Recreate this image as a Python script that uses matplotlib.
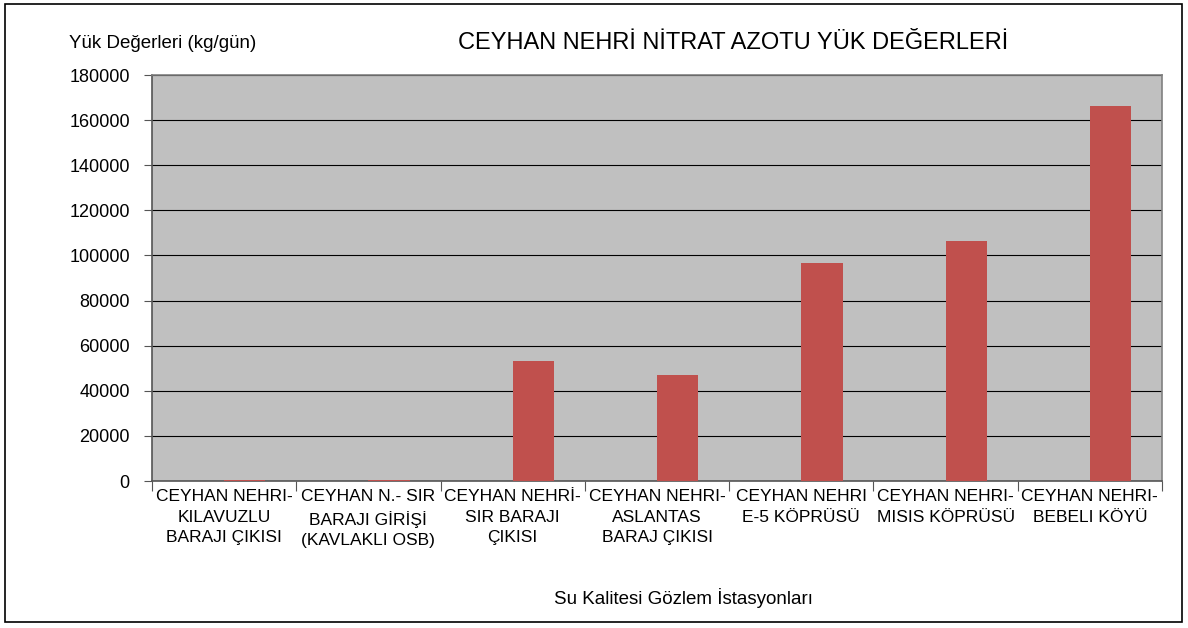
import matplotlib
matplotlib.use("Agg")
import matplotlib.pyplot as plt
import numpy as np

plt.rcParams["font.family"] = ["Liberation Sans", "DejaVu Sans"]

stations = [
    "CEYHAN NEHRI-\nKILAVUZLU\nBARAJI ÇIKISI",
    "CEYHAN N.- SIR\nBARAJI GİRİŞİ\n(KAVLAKLI OSB)",
    "CEYHAN NEHRİ-\nSIR BARAJI\nÇIKISI",
    "CEYHAN NEHRI-\nASLANTAS\nBARAJ ÇIKISI",
    "CEYHAN NEHRI\nE-5 KÖPRÜSÜ",
    "CEYHAN NEHRI-\nMISIS KÖPRÜSÜ",
    "CEYHAN NEHRI-\nBEBELI KÖYÜ",
]
empty_series = [0, 0, 0, 0, 0, 0, 0]
nitrat_yuk = [300, 300, 53200, 47000, 96700, 106400, 166300]
yticks = [0, 20000, 40000, 60000, 80000, 100000, 120000, 140000, 160000, 180000]

fig = plt.figure(figsize=(11.88, 6.28), dpi=100)
ax = fig.add_axes([152 / 1188, 1 - 481 / 628, 1010 / 1188, 406 / 628])

x = np.arange(len(stations))
w = 1 / 3.5
ax.bar(x - w / 2, empty_series, width=w, color="#4F81BD")
ax.bar(x + w / 2, nitrat_yuk, width=w, color="#C0504D", zorder=3)

ax.set_facecolor("#C0C0C0")
ax.set_xlim(-0.5, len(stations) - 0.5)
ax.set_ylim(0, 180000)
ax.set_yticks(yticks)
ax.set_yticklabels([str(v) for v in yticks], fontsize=13)
ax.yaxis.grid(True, color="#000000", linewidth=0.8, zorder=0)
ax.set_axisbelow(True)

ax.set_xticks(np.arange(-0.5, len(stations)))
ax.set_xticklabels([])
ax.set_xticks(x, minor=True)
ax.set_xticklabels(stations, minor=True, fontsize=12.5, linespacing=1.45)
ax.tick_params(axis="x", which="minor", length=0, pad=6)
ax.tick_params(axis="x", which="major", length=7, color="#555555")
ax.tick_params(axis="y", length=6, color="#555555", pad=10)

for side in ["left", "bottom", "right", "top"]:
    ax.spines[side].set_color("#555555")
    ax.spines[side].set_linewidth(1.2)
ax.spines["top"].set_color("#808080")
ax.spines["right"].set_color("#808080")

fig.text(733 / 1188, 1 - 43 / 628, "CEYHAN NEHRİ NİTRAT AZOTU YÜK DEĞERLERİ",
         ha="center", va="center", fontsize=17)
fig.text(163 / 1188, 1 - 43 / 628, "Yük Değerleri (kg/gün)",
         ha="center", va="center", fontsize=13.5)
fig.text(683 / 1188, 1 - 598 / 628, "Su Kalitesi Gözlem İstasyonları",
         ha="center", va="center", fontsize=13.5)

border = plt.Rectangle((5 / 1188, 1 - 622 / 628), 1177 / 1188, 618 / 628,
                       transform=fig.transFigure, fill=False,
                       edgecolor="#000000", linewidth=1.2)
fig.patches.append(border)

fig.savefig("out.png", dpi=100)
